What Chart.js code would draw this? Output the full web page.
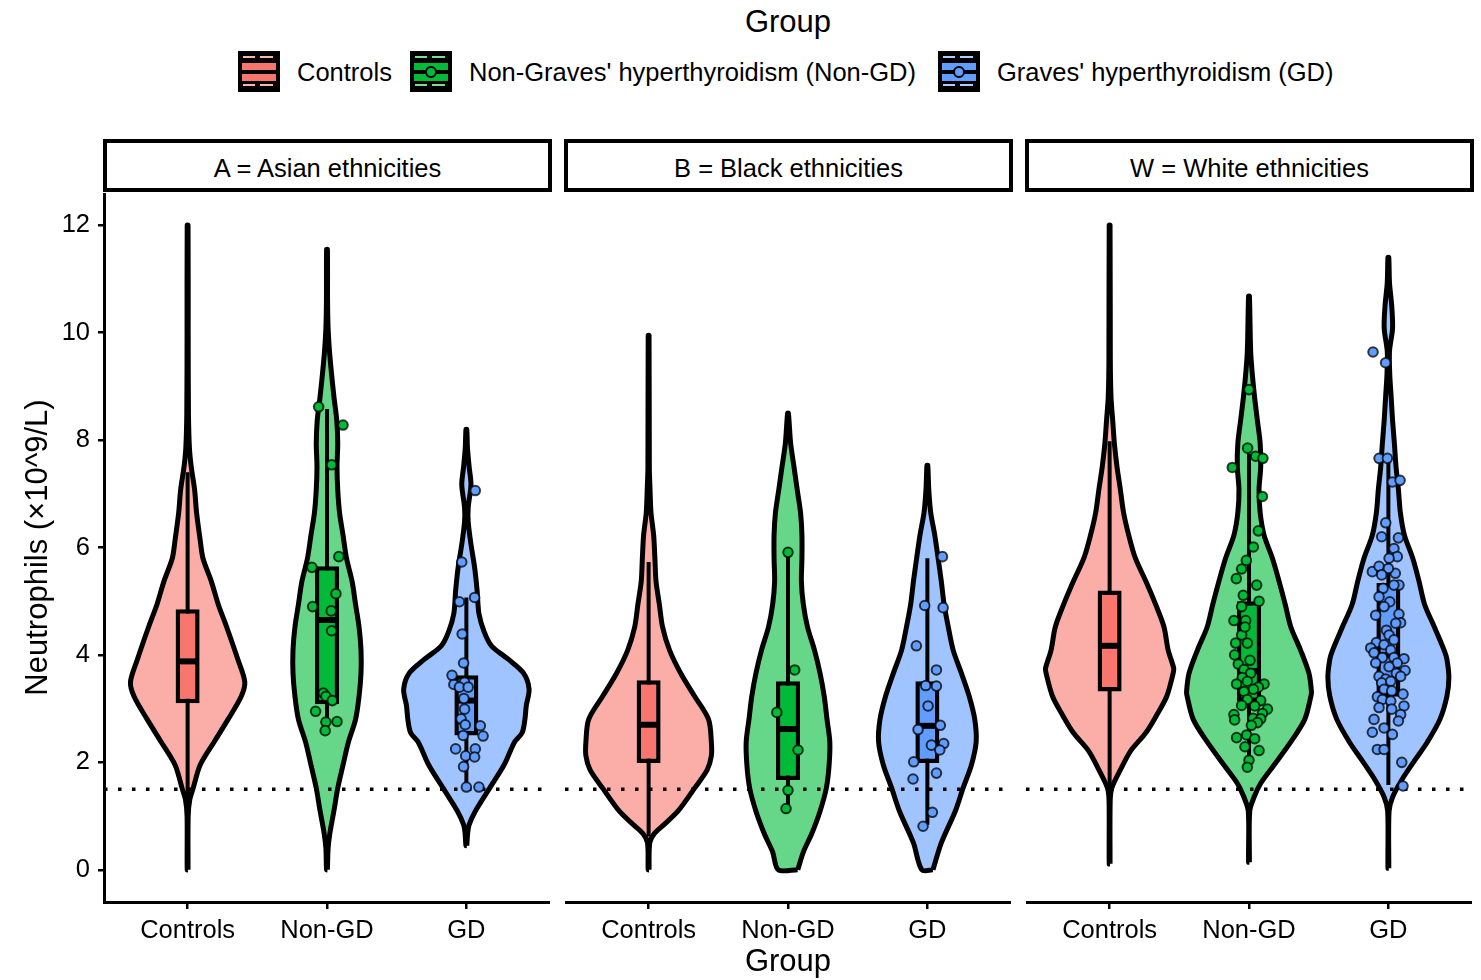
<!DOCTYPE html>
<html>
<head>
<meta charset="utf-8">
<script src="https://cdn.jsdelivr.net/npm/chart.js@4.4.1/dist/chart.umd.min.js"></script>
<style>
  html, body { margin: 0; padding: 0; background: #fff; }
  body { width: 1481px; height: 980px; position: relative; overflow: hidden;
         font-family: 'Liberation Sans', Arial, Helvetica, sans-serif; color: #000; }
  .abs { position: absolute; }
  #legendTitle { left: 0; width: 1576px; top: 6px; font-size: 31px; line-height: 31px; text-align: center; }
  .key { position: absolute; top: 51px; width: 42px; height: 41px; background: #000; }
  .key .dash { position: absolute; height: 2px; }
  .key .bar { position: absolute; left: 4px; width: 34px; height: 7px; }
  .key .dot { position: absolute; left: 15px; top: 15px; width: 12px; height: 12px;
              border-radius: 50%; border: 2px solid #000; box-sizing: border-box; }
  .legendText { position: absolute; top: 60px; font-size: 25.5px; line-height: 25.5px; white-space: nowrap; }
  .strip { position: absolute; top: 139px; height: 53px; width: 449px; box-sizing: border-box;
           border: 4px solid #000; background: #fff; font-size: 25.5px; text-align: center;
           line-height: 50px; white-space: nowrap; }
  canvas { position: absolute; top: 193px; }
</style>
</head>
<body>

<div id="legendTitle" class="abs"></div>
<div id="legend"></div>
<div id="strips"></div>

<canvas id="panelA" width="550" height="787" style="left:0px"></canvas>
<canvas id="panelB" width="446" height="787" style="left:565px"></canvas>
<canvas id="panelW" width="446" height="787" style="left:1026px"></canvas>

<script>
// ---- data ----
const groups = ['Controls', 'Non-GD', 'GD'];
const legendLabels = ['Controls', "Non-Graves' hyperthyroidism (Non-GD)", "Graves' hyperthyroidism (GD)"];
const panelLabels = ['A = Asian ethnicities', 'B = Black ethnicities', 'W = White ethnicities'];
const yTicks = [0, 2, 4, 6, 8, 10, 12];
const threshold = 1.5;

// violin outlines: [neutrophils, half width in category units]
const violinAsianControls = [[0,0.003],[1.0,0.004],[1.3,0.015],[1.52,0.04],[1.95,0.09],[2.38,0.19],[2.8,0.29],[3.23,0.385],[3.5,0.41],[3.92,0.36],[4.52,0.28],[4.94,0.22],[5.37,0.17],[5.8,0.11],[6.14,0.09],[6.65,0.064],[7.08,0.05],[7.5,0.026],[7.85,0.013],[8.5,0.006],[10,0.004],[12,0.003]];
const violinAsianNonGd = [[0,0.003],[0.4,0.008],[0.67,0.02],[1.1,0.05],[1.52,0.077],[1.95,0.115],[2.38,0.154],[2.8,0.205],[3.23,0.23],[3.66,0.244],[4.09,0.244],[4.52,0.23],[4.94,0.205],[5.37,0.18],[5.8,0.14],[6.23,0.115],[6.65,0.09],[7.08,0.077],[7.5,0.072],[7.94,0.077],[8.37,0.07],[8.8,0.05],[9.22,0.033],[9.65,0.018],[10.08,0.008],[10.6,0.004],[11.55,0.003]];
const violinAsianGd = [[0.45,0.003],[0.7,0.01],[0.84,0.02],[1.09,0.064],[1.52,0.167],[1.95,0.27],[2.38,0.346],[2.55,0.4],[2.8,0.42],[3.06,0.43],[3.36,0.45],[3.66,0.41],[3.92,0.3],[4.17,0.18],[4.43,0.128],[4.77,0.09],[5.2,0.077],[5.63,0.059],[6.06,0.033],[6.48,0.013],[6.74,0.013],[7.17,0.033],[7.5,0.02],[7.85,0.008],[8.2,0.003]];

const violinBlackControls = [[0,0.003],[0.5,0.008],[0.67,0.04],[0.84,0.11],[1.09,0.21],[1.52,0.33],[1.86,0.42],[2.12,0.45],[2.38,0.45],[2.8,0.43],[3.23,0.33],[3.66,0.23],[4.09,0.15],[4.52,0.1],[4.94,0.077],[5.37,0.053],[5.8,0.045],[6.23,0.036],[6.65,0.017],[7.08,0.01],[7.5,0.005],[9.95,0.003]];
const violinBlackNonGd = [[0,0.07],[0.33,0.11],[0.67,0.17],[1.09,0.23],[1.52,0.275],[1.95,0.295],[2.38,0.3],[2.8,0.28],[3.23,0.26],[3.66,0.23],[4.09,0.19],[4.52,0.14],[4.94,0.11],[5.37,0.096],[5.8,0.1],[6.23,0.1],[6.65,0.09],[7.08,0.066],[7.5,0.043],[7.94,0.019],[8.5,0.003]];
const violinBlackGd = [[0,0.04],[0.5,0.1],[1.09,0.2],[1.52,0.256],[1.95,0.316],[2.38,0.35],[2.8,0.34],[3.23,0.3],[3.66,0.244],[4.09,0.185],[4.52,0.15],[4.94,0.12],[5.37,0.1],[5.8,0.077],[6.23,0.053],[6.65,0.024],[7.08,0.01],[7.53,0.003]];

const violinWhiteControls = [[0.11,0.003],[1.27,0.004],[1.52,0.015],[1.86,0.077],[2.21,0.15],[2.55,0.26],[2.89,0.34],[3.23,0.41],[3.66,0.456],[3.75,0.46],[4.09,0.42],[4.52,0.39],[4.94,0.33],[5.37,0.26],[5.8,0.185],[6.23,0.137],[6.65,0.1],[7.08,0.077],[7.5,0.053],[7.94,0.034],[8.37,0.022],[8.8,0.01],[9.5,0.005],[12,0.003]];
const violinWhiteNonGd = [[0.14,0.003],[1.09,0.005],[1.35,0.036],[1.61,0.084],[1.95,0.18],[2.38,0.3],[2.8,0.4],[3.23,0.444],[3.32,0.448],[3.66,0.43],[4.09,0.37],[4.52,0.3],[4.94,0.26],[5.37,0.216],[5.8,0.168],[6.23,0.108],[6.65,0.08],[7.08,0.072],[7.5,0.084],[7.94,0.08],[8.37,0.06],[8.8,0.04],[9.22,0.024],[9.65,0.012],[10.68,0.003]];
const violinWhiteGd = [[0.03,0.003],[1.09,0.005],[1.35,0.03],[1.69,0.1],[2.04,0.19],[2.38,0.28],[2.8,0.37],[3.23,0.42],[3.58,0.434],[3.92,0.42],[4.09,0.4],[4.52,0.33],[4.94,0.26],[5.37,0.22],[5.8,0.175],[6.23,0.115],[6.65,0.086],[7.08,0.072],[7.5,0.055],[7.94,0.043],[8.37,0.03],[8.8,0.02],[9.22,0.01],[9.65,0.008],[10.08,0.03],[10.5,0.024],[10.93,0.008],[11.4,0.003]];

// boxplots: [lower whisker, Q1, median, Q3, upper whisker]  (Controls, Non-GD, GD)
const boxAsian = [[1.3,3.1,3.88,4.85,7.4],[2.6,3.08,4.65,5.65,8.58],[1.52,2.5,3.15,3.62,5.07]];
const boxBlack = [[0.62,1.99,2.7,3.53,5.73],[1.14,1.67,2.62,3.51,5.91],[0.84,1.99,2.68,3.51,5.8]];
const boxWhite = [[1.4,3.32,4.17,5.2,7.98],[1.99,3.13,3.7,5.0,7.75],[1.58,3.22,4.0,5.34,7.63]];

// jittered patients: [horizontal jitter, neutrophils]
const pointsAsianNonGd = [[-0.06,8.62],[0.115,8.28],[0.033,7.54],[-0.108,5.63],[0.085,5.83],[0.064,5.14],[-0.103,4.9],[0.03,4.82],[0.033,4.45],[-0.026,3.29],[-0.008,3.23],[0.038,3.15],[-0.082,2.95],[0.072,2.76],[-0.008,2.75],[-0.013,2.59]];
const pointsAsianGd = [[0.064,7.06],[-0.033,5.73],[-0.05,4.99],[0.059,5.07],[-0.03,4.39],[-0.02,3.85],[-0.103,3.62],[-0.013,3.49],[-0.09,3.45],[-0.05,3.4],[0.013,3.4],[-0.018,3.19],[-0.013,2.99],[-0.038,2.81],[-0.008,2.7],[0.1,2.68],[0.12,2.49],[-0.023,2.5],[-0.077,2.25],[0.064,2.25],[-0.005,2.12],[0.059,2.1],[-0.02,1.92],[0,1.54],[0.09,1.54]];
const pointsBlackNonGd = [[0,5.91],[0.048,3.72],[-0.08,2.93],[0.072,2.23],[0,1.48],[-0.014,1.14]];
const pointsBlackGd = [[0.108,5.83],[-0.019,4.92],[0.113,4.88],[-0.079,4.17],[0.065,3.72],[-0.012,3.43],[0.065,3.42],[0.005,3.05],[-0.067,2.61],[0.093,2.69],[0.029,2.32],[0.117,2.35],[0.089,2.23],[-0.098,2.01],[0.065,1.8],[-0.103,1.69],[0.036,1.07],[-0.031,0.81]];
const pointsWhiteNonGd = [[0,8.94],[-0.01,7.85],[0.048,7.7],[0.1,7.66],[-0.12,7.49],[0.096,6.95],[0.067,6.31],[0.031,6.01],[-0.019,5.76],[-0.053,5.6],[-0.091,5.42],[0.055,5.3],[0.072,5.0],[-0.041,5.11],[-0.053,4.9],[-0.108,4.64],[-0.024,4.64],[-0.053,4.37],[-0.029,4.52],[-0.096,4.22],[-0.012,4.22],[-0.103,4.0],[0.007,3.9],[-0.077,3.83],[-0.036,3.73],[0.012,3.66],[-0.048,3.58],[-0.012,3.51],[-0.089,3.46],[0.108,3.46],[0.067,3.4],[0.031,3.36],[-0.036,3.32],[-0.012,3.17],[0.084,3.15],[-0.053,3.06],[0.041,3.05],[0.132,2.99],[0.096,2.91],[-0.108,2.89],[0.029,2.82],[-0.103,2.79],[0.084,2.81],[0.06,2.74],[0.017,2.69],[-0.089,2.46],[-0.017,2.51],[0.041,2.44],[-0.029,2.29],[0.072,2.22],[0,2.04],[-0.012,1.91]];
const pointsWhiteGd = [[-0.11,9.64],[-0.02,9.44],[-0.067,7.66],[-0.007,7.66],[0.029,7.22],[0.084,7.25],[-0.019,6.46],[-0.048,6.2],[0.072,6.18],[0.04,5.98],[0.064,5.83],[0.005,5.8],[-0.115,5.55],[-0.067,5.65],[0.05,5.52],[0,5.61],[-0.048,5.49],[0.076,5.3],[0.04,5.3],[-0.038,5.24],[-0.067,5.08],[0.01,4.99],[-0.031,4.9],[-0.091,4.74],[0.076,4.76],[0.088,4.6],[0.053,4.59],[-0.014,4.46],[0.005,4.37],[0.04,4.28],[-0.086,4.23],[-0.031,4.19],[-0.127,4.13],[-0.103,4.04],[0.017,4.09],[-0.043,3.95],[0.04,3.95],[0.112,3.93],[-0.091,3.85],[0.064,3.85],[0.005,3.78],[0.12,3.71],[0.057,3.66],[-0.067,3.6],[-0.019,3.55],[0.088,3.6],[-0.048,3.48],[0.017,3.51],[-0.031,3.36],[-0.079,3.22],[0.024,3.33],[0.105,3.27],[-0.043,3.17],[0.017,3.14],[0.112,3.05],[-0.067,3.02],[0.024,2.99],[0.088,2.89],[-0.103,2.8],[0.072,2.77],[-0.115,2.56],[-0.031,2.64],[0.029,2.52],[-0.079,2.24],[-0.031,2.24],[0.096,2.0],[0.105,1.56]];

// ---- styling ----
const FONT = "'Liberation Sans', Arial, Helvetica, sans-serif";
const boxColors = ['#F8766D', '#00BA38', '#619CFF'];
const violinColors = ['rgba(248,118,109,0.6)', 'rgba(0,186,56,0.6)', 'rgba(97,156,255,0.6)'];
const dashColors = ['#FBB3AE', '#7FDB9B', '#B0CDFF'];

// legend + strips as real text
document.getElementById('legendTitle').textContent = 'Group';
const keyLefts = [238, 410, 938];
const textLefts = [297, 469, 997];
const legendEl = document.getElementById('legend');
legendLabels.forEach(function (label, i) {
    const key = document.createElement('div');
    key.className = 'key';
    key.style.left = keyLefts[i] + 'px';
    let html = '';
    [[5, 5, 12], [5, 22, 13], [33, 5, 12], [33, 22, 13]].forEach(function (d) {
        html += '<div class="dash" style="top:' + d[0] + 'px;left:' + d[1] + 'px;width:' + d[2] + 'px;background:' + dashColors[i] + '"></div>';
    });
    html += '<div class="bar" style="top:12px;background:' + boxColors[i] + '"></div>';
    html += '<div class="bar" style="top:23px;background:' + boxColors[i] + '"></div>';
    if (i > 0) {
        html += '<div class="dot" style="background:' + boxColors[i] + '"></div>';
    }
    key.innerHTML = html;
    legendEl.appendChild(key);

    const txt = document.createElement('div');
    txt.className = 'legendText';
    txt.style.left = textLefts[i] + 'px';
    txt.textContent = label;
    legendEl.appendChild(txt);
});

const stripLefts = [103, 564, 1025];
const stripsEl = document.getElementById('strips');
panelLabels.forEach(function (label, i) {
    const s = document.createElement('div');
    s.className = 'strip';
    s.style.left = stripLefts[i] + 'px';
    s.textContent = label;
    stripsEl.appendChild(s);
});

// ---- charts ----
function violinOutline(center, profile) {
    const right = profile.map(p => ({ x: center + p[1], y: p[0] }));
    const left = profile.slice().reverse().map(p => ({ x: center - p[1], y: p[0] }));
    return right.concat(left, [right[0]]);
}

// the bar dataset would otherwise pull in offset/padding defaults
function noPadding(s) {
    s.paddingTop = 0; s.paddingBottom = 0; s.paddingLeft = 0; s.paddingRight = 0;
}

function buildPanel(canvasId, violins, boxes, points, withYAxis, withXTitle) {
    const datasets = [];

    violins.forEach(function (profile, i) {
        datasets.push({
            type: 'line', data: violinOutline(i + 1, profile),
            backgroundColor: violinColors[i], borderColor: '#000', borderWidth: 5,
            fill: 'shape', tension: 0.3, pointRadius: 0, borderJoinStyle: 'round', order: 5
        });
    });

    datasets.push({
        type: 'line', data: [{ x: 0.4, y: threshold }, { x: 3.6, y: threshold }],
        borderColor: '#000', borderWidth: 3.5, borderDash: [3.5, 10.5],
        pointRadius: 0, fill: false, order: 4
    });

    boxes.forEach(function (b, i) {
        datasets.push({
            type: 'line', data: [{ x: i + 1, y: b[0] }, { x: i + 1, y: b[4] }],
            borderColor: '#000', borderWidth: 4, pointRadius: 0, fill: false, order: 3
        });
    });

    datasets.push({
        type: 'bar',
        data: boxes.map((b, i) => ({ x: i + 1, y: [b[1], b[3]] })),
        backgroundColor: boxColors, borderColor: '#000', borderWidth: 4.5,
        borderSkipped: false, barThickness: 24, inflateAmount: 0, order: 2
    });

    boxes.forEach(function (b, i) {
        datasets.push({
            type: 'line', data: [{ x: i + 1 - 0.075, y: b[2] }, { x: i + 1 + 0.075, y: b[2] }],
            borderColor: '#000', borderWidth: 6, pointRadius: 0, fill: false, order: 1
        });
    });

    points.forEach(function (pts, i) {
        if (!pts.length) return;
        datasets.push({
            type: 'scatter', data: pts.map(p => ({ x: i + 1 + p[0], y: p[1] })),
            backgroundColor: boxColors[i], borderColor: 'rgba(0,0,0,0.75)',
            borderWidth: 2, pointRadius: 4.8, order: 0
        });
    });

    return new Chart(document.getElementById(canvasId), {
        type: 'scatter',
        data: { datasets: datasets },
        options: {
            responsive: false,
            animation: false,
            events: [],
            layout: { padding: 0, autoPadding: false },
            plugins: { legend: { display: false }, tooltip: { enabled: false } },
            scales: {
                x: {
                    type: 'linear', min: 0.4, max: 3.6, offset: false,
                    afterBuildTicks: s => { s.ticks = groups.map((g, i) => ({ value: i + 1 })); },
                    afterFit: s => { s.height = 78; noPadding(s); },
                    ticks: {
                        callback: v => groups[v - 1], color: '#000', padding: 7,
                        maxRotation: 0, autoSkip: false, font: { family: FONT, size: 25.5 }
                    },
                    grid: { offset: false, drawOnChartArea: false, drawTicks: true, tickLength: 7, color: '#000', lineWidth: 2.5 },
                    border: { display: true, color: '#000', width: 3 },
                    title: {
                        display: withXTitle, text: 'Group', color: '#000',
                        font: { family: FONT, size: 31, lineHeight: 1 }, padding: { top: 0, bottom: 2 }
                    }
                },
                y: {
                    type: 'linear', min: -0.6, max: 12.6, display: withYAxis,
                    afterBuildTicks: s => { s.ticks = yTicks.map(v => ({ value: v })); },
                    afterFit: s => { s.width = withYAxis ? 104 : 0; noPadding(s); },
                    ticks: { color: '#000', padding: 8, font: { family: FONT, size: 25.5 } },
                    grid: { drawOnChartArea: false, drawTicks: true, tickLength: 6, color: '#000', lineWidth: 2.5 },
                    border: { display: true, color: '#000', width: 3 },
                    title: {
                        display: true, text: 'Neutrophils (×10^9/L)', color: '#000',
                        font: { family: FONT, size: 31, lineHeight: 1.2 }, padding: { top: 20, bottom: 0 }
                    }
                }
            }
        }
    });
}

buildPanel('panelA', [violinAsianControls, violinAsianNonGd, violinAsianGd], boxAsian,
    [[], pointsAsianNonGd, pointsAsianGd], true, false);
buildPanel('panelB', [violinBlackControls, violinBlackNonGd, violinBlackGd], boxBlack,
    [[], pointsBlackNonGd, pointsBlackGd], false, true);
buildPanel('panelW', [violinWhiteControls, violinWhiteNonGd, violinWhiteGd], boxWhite,
    [[], pointsWhiteNonGd, pointsWhiteGd], false, false);
</script>
</body>
</html>
